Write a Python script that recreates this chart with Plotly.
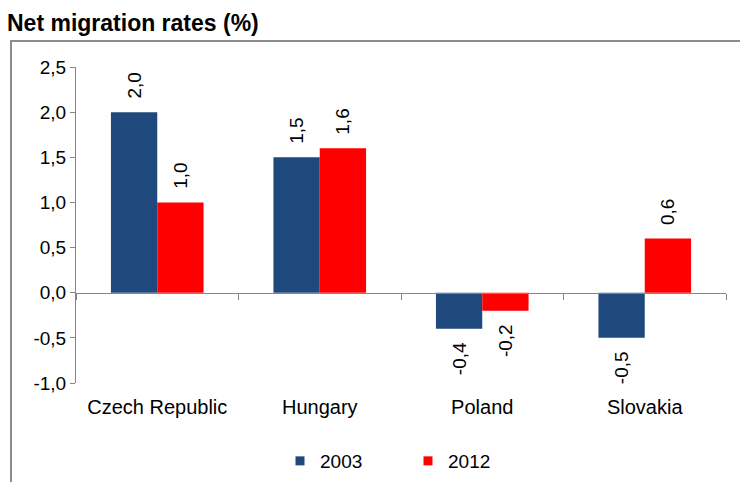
import plotly.graph_objects as go

categories = ["Czech Republic", "Hungary", "Poland", "Slovakia"]
series_names = ["2003", "2012"]
values_2003 = [2.0, 1.5, -0.4, -0.5]
values_2012 = [1.0, 1.6, -0.2, 0.6]
colors = ["#1F497D", "#FF0000"]
y_ticks = [-1.0, -0.5, 0.0, 0.5, 1.0, 1.5, 2.0, 2.5]

y_min, y_max = -1.0, 2.5
font_family = "Liberation Sans, Arial, sans-serif"
NB = "\u00a0"


def fmt(v):
    return f"{v:.1f}".replace(".", ",")


def bar_label(v):
    # pad towards the bar so the label sits a little away from it
    return NB * 2 + fmt(v) if v >= 0 else fmt(v) + NB * 2


fig = go.Figure()
for name, vals, col in zip(series_names, [values_2003, values_2012], colors):
    fig.add_trace(go.Bar(
        x=categories, y=vals, name=name, marker_color=col,
        marker_line_width=0, showlegend=False,
        text=[bar_label(v) for v in vals], texttemplate="%{text}",
        textposition="outside",
        textangle=-90, textfont=dict(size=19, color="#000000", family=font_family),
        cliponaxis=False,
    ))

# legend entries with small square swatches
for name, col in zip(series_names, colors):
    fig.add_trace(go.Scatter(x=[None], y=[None], mode="markers", name=name,
                             marker=dict(symbol="square", size=9, color=col),
                             showlegend=True, hoverinfo="skip"))

# invisible helper trace for the category axis drawn at zero
fig.add_trace(go.Scatter(x=categories, y=[0] * len(categories), xaxis="x2",
                         mode="markers", marker=dict(opacity=0),
                         showlegend=False, hoverinfo="skip"))

zero_pos = (0 - y_min) / (y_max - y_min)

fig.update_layout(
    width=740, height=482,
    separators=",.",
    paper_bgcolor="white", plot_bgcolor="white",
    margin=dict(l=76, r=14, t=67, b=99),
    font=dict(family=font_family, size=19, color="#000000"),
    barmode="group", bargap=0.43, bargroupgap=0,
    title=dict(text="<b>Net migration rates (%)</b>", x=7 / 740, xanchor="left",
               xref="container", yref="container",
               y=0.953, yanchor="middle",
               font=dict(size=23, color="#000000", family=font_family)),
    xaxis=dict(type="category", categoryarray=categories, range=[-0.5, 3.5],
               showline=False, ticks="", showgrid=False, zeroline=False,
               tickfont=dict(size=20), ticklabelstandoff=10, automargin=False),
    xaxis2=dict(type="category", categoryarray=categories, range=[-0.5, 3.5],
                overlaying="x", anchor="free", position=zero_pos, side="bottom",
                showline=True, linecolor="#868686", linewidth=1,
                ticks="outside", tickson="boundaries", ticklen=6, tickcolor="#868686",
                showticklabels=False, showgrid=False, zeroline=False, automargin=False),
    yaxis=dict(range=[y_min, y_max], tickvals=y_ticks,
               ticktext=[fmt(v) for v in y_ticks],
               showline=True, linecolor="#868686", linewidth=1,
               ticks="outside", ticklen=5, tickcolor="#868686",
               showgrid=False, zeroline=False, tickfont=dict(size=19), automargin=False),
    legend=dict(orientation="h", xref="container", x=280 / 740, xanchor="left",
                yref="container", y=1 - 461 / 482, yanchor="middle",
                font=dict(size=19), entrywidth=83, entrywidthmode="pixels",
                traceorder="normal", itemwidth=30),
    shapes=[dict(type="rect", xref="paper", yref="paper",
                 x0=-0.1, x1=1.1, y0=-0.6, y1=1.082,
                 line=dict(color="#8C8C8C", width=2), layer="below")],
)

fig.write_html("out.html", config={"displayModeBar": False},
               post_script="document.body.style.margin='0';")
